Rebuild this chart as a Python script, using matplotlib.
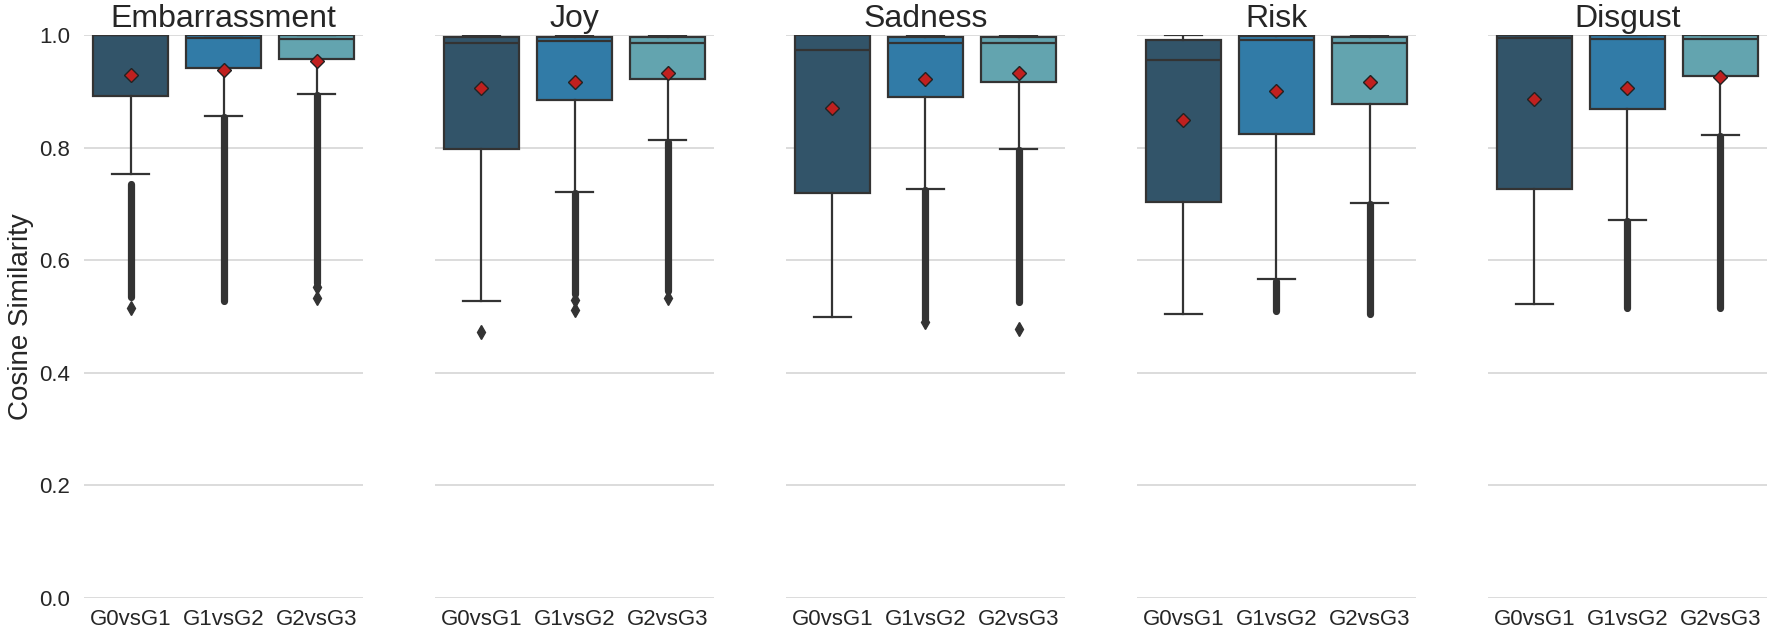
import matplotlib
matplotlib.use("Agg")
import matplotlib.pyplot as plt

# categories
emotions = ["Embarrassment", "Joy", "Sadness", "Risk", "Disgust"]
comparisons = ["G0vsG1", "G1vsG2", "G2vsG3"]

# box statistics, one list per emotion (G0vsG1, G1vsG2, G2vsG3)
q1 = {
    "Embarrassment": [0.892, 0.942, 0.957],
    "Joy": [0.797, 0.885, 0.921],
    "Sadness": [0.719, 0.890, 0.917],
    "Risk": [0.704, 0.825, 0.877],
    "Disgust": [0.7265, 0.868, 0.927],
}
medians = {
    "Embarrassment": [1.0, 0.994, 0.993],
    "Joy": [0.986, 0.990, 0.986],
    "Sadness": [0.973, 0.986, 0.985],
    "Risk": [0.956, 0.992, 0.985],
    "Disgust": [0.994, 0.993, 0.993],
}
q3 = {
    "Embarrassment": [1.0, 1.0, 1.0],
    "Joy": [0.997, 0.997, 0.997],
    "Sadness": [1.0, 0.996, 0.997],
    "Risk": [0.991, 0.998, 0.997],
    "Disgust": [1.0, 1.0, 1.0],
}
whis_low = {
    "Embarrassment": [0.753, 0.857, 0.896],
    "Joy": [0.5275, 0.722, 0.813],
    "Sadness": [0.500, 0.7265, 0.7975],
    "Risk": [0.5044, 0.566, 0.7016],
    "Disgust": [0.522, 0.672, 0.822],
}
whis_high = {
    "Embarrassment": [1.0, 1.0, 1.0],
    "Joy": [1.0, 1.0, 1.0],
    "Sadness": [1.0, 1.0, 1.0],
    "Risk": [1.0, 1.0, 1.0],
    "Disgust": [1.0, 1.0, 1.0],
}
means = {
    "Embarrassment": [0.929, 0.938, 0.953],
    "Joy": [0.906, 0.9165, 0.933],
    "Sadness": [0.870, 0.921, 0.932],
    "Risk": [0.849, 0.901, 0.9165],
    "Disgust": [0.886, 0.905, 0.926],
}
# dense outlier columns: (top, bottom), None when there are none
outlier_bands = {
    "Embarrassment": [(0.736, 0.535), (0.855, 0.527), (0.894, 0.56)],
    "Joy": [None, (0.72, 0.54), (0.81, 0.545)],
    "Sadness": [None, (0.725, 0.495), (0.795, 0.525)],
    "Risk": [None, (0.563, 0.51), (0.70, 0.505)],
    "Disgust": [None, (0.67, 0.515), (0.82, 0.515)],
}
# single outliers that stand apart
outliers = {
    "Embarrassment": [[0.515], [], [0.553, 0.533]],
    "Joy": [[0.473], [0.53, 0.5115], [0.533]],
    "Sadness": [[], [0.49], [0.477]],
    "Risk": [[], [], []],
    "Disgust": [[], [], []],
}

colors = ["#325469", "#317ba7", "#63a4af"]
edge = "#333333"
y_ticks = [0.0, 0.2, 0.4, 0.6, 0.8, 1.0]

plt.rcParams["font.family"] = ["Liberation Sans", "DejaVu Sans"]

fig, axes = plt.subplots(1, 5, figsize=(17.73, 6.3), dpi=100, sharey=True)
fig.subplots_adjust(left=84 / 1773, right=1767 / 1773, bottom=32 / 630,
                    top=595 / 630, wspace=0.258)

for ax, emo in zip(axes, emotions):
    stats = []
    for i in range(3):
        stats.append({
            "med": medians[emo][i], "q1": q1[emo][i], "q3": q3[emo][i],
            "whislo": whis_low[emo][i], "whishi": whis_high[emo][i],
            "mean": means[emo][i], "fliers": outliers[emo][i],
        })
    bp = ax.bxp(stats, positions=range(3), widths=0.8, patch_artist=True,
                showmeans=True,
                boxprops=dict(edgecolor=edge, linewidth=1.6),
                medianprops=dict(color=edge, linewidth=1.6),
                whiskerprops=dict(color=edge, linewidth=1.6),
                capprops=dict(color=edge, linewidth=1.6),
                capwidths=0.4,
                meanprops=dict(marker="D", markerfacecolor="#c0201f",
                               markeredgecolor="#222222", markersize=7.5),
                flierprops=dict(marker="d", markerfacecolor=edge,
                                markeredgecolor=edge, markersize=7))
    for patch, c in zip(bp["boxes"], colors):
        patch.set_facecolor(c)
    for m in bp["means"]:
        m.set_zorder(5)

    for i, band in enumerate(outlier_bands[emo]):
        if band is not None:
            ax.plot([i, i], [band[1], band[0]], color=edge, lw=5.2,
                    solid_capstyle="round", zorder=3)

    ax.set_ylim(0, 1.0)
    ax.set_xlim(-0.5, 2.5)
    ax.set_yticks(y_ticks)
    ax.set_xticks(range(3))
    ax.set_xticklabels(comparisons)
    ax.grid(axis="y", color="#d6d6d6", linewidth=1.2, zorder=0)
    ax.set_axisbelow(True)
    for s in ax.spines.values():
        s.set_visible(False)
    ax.tick_params(axis="x", length=0, pad=8, labelsize=16, colors="#262626")
    ax.tick_params(axis="y", length=0, pad=10, labelsize=16, colors="#262626")
    ax.set_title(emo, fontsize=23, color="#262626", pad=6)

axes[0].set_ylabel("Cosine Similarity", fontsize=20, color="#262626", labelpad=4)

fig.savefig("out.png", dpi=100)
